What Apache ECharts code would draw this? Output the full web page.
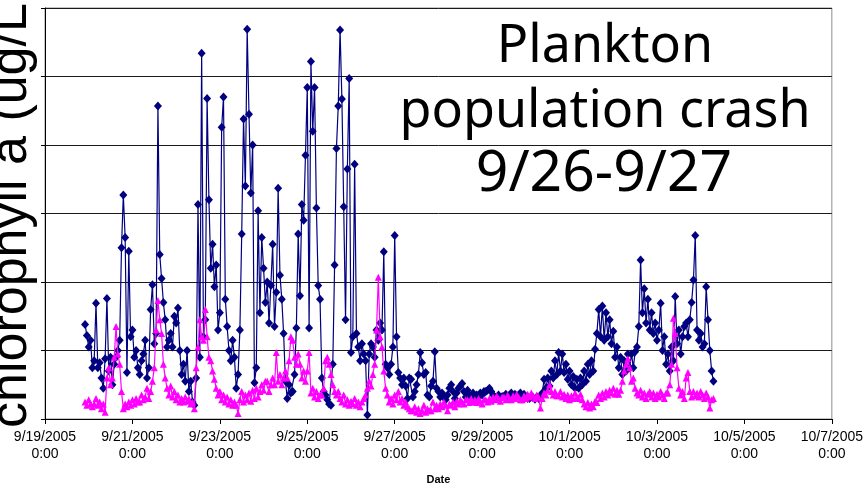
<!DOCTYPE html>
<html>
<head>
<meta charset="utf-8">
<script src="https://cdn.jsdelivr.net/npm/echarts@6/dist/echarts.min.js"></script>
<style>
html,body{margin:0;padding:0;background:#fff;}
#chart{width:866px;height:490px;}
</style>
</head>
<body>
<div id="chart"></div>
<script>
// Time base: hours after 9/19/2005 0:00; one reading per hour starting 9/19 22:00
const START_HOUR = 22;
const STEP_HOURS = 1;

const xTickLabels = ['9/19/2005','9/21/2005','9/23/2005','9/25/2005','9/27/2005','9/29/2005','10/1/2005','10/3/2005','10/5/2005','10/7/2005'];

// chlorophyll a, navy series (diamonds)
const chlNavy = [
 13.8,12.2,10.5,11.5,7.5,8.5,16.9,7.5,8.2,6.0,
 4.5,8.8,17.6,7.0,9.0,5.0,8.0,9.0,10.0,11.5,
 25.0,32.7,26.5,6.8,24.5,12.0,13.0,9.0,10.0,7.5,
 6.5,8.5,9.5,11.5,6.0,7.5,16.0,19.6,11.0,12.5,
 45.7,24.0,20.5,17.0,14.5,10.5,11.5,12.5,10.5,15.0,
 14.0,16.2,10.0,6.5,8.0,5.5,10.0,4.0,5.5,2.5,
 2.0,6.0,31.3,9.0,53.4,12.0,14.5,46.8,32.0,22.0,
 25.5,19.3,22.5,13.0,15.5,42.6,47.0,17.5,13.5,10.0,
 8.5,11.5,9.0,4.5,6.5,13.0,27.0,43.8,34.0,56.9,
 44.5,33.0,40.0,5.3,7.5,30.4,15.5,26.5,22.0,17.0,
 20.0,14.0,19.5,25.5,13.5,18.5,33.7,21.0,17.5,12.5,
 5.5,3.0,5.0,3.8,4.0,6.5,13.3,27.0,18.0,31.3,
 29.0,38.5,48.4,13.3,52.2,42.0,48.4,30.8,19.5,17.5,
 6.0,4.0,3.5,2.8,2.2,2.0,8.0,22.5,39.5,45.7,
 56.8,46.7,31.0,14.5,36.5,49.7,9.7,12.0,37.2,12.5,
 10.5,8.5,11.0,9.5,8.5,0.6,9.5,11.0,10.5,9.0,
 13.0,11.5,14.0,13.0,24.4,8.0,7.5,6.5,8.0,10.5,
 26.8,12.0,6.8,6.0,5.0,6.0,4.8,3.0,6.0,5.8,
 3.2,4.0,5.0,6.5,9.7,8.2,6.5,6.8,3.5,3.2,
 4.8,5.5,9.8,4.5,4.0,3.2,3.8,3.2,2.8,3.5,
 4.5,5.0,4.0,3.0,3.8,4.5,4.8,5.2,4.0,3.2,
 4.2,3.5,3.0,3.8,2.8,3.5,3.2,3.8,3.5,4.0,
 4.0,4.2,4.5,4.0,3.5,3.2,3.0,3.5,3.0,3.3,
 3.3,3.6,3.2,3.5,3.8,3.4,3.6,3.3,3.5,3.8,
 3.4,3.6,3.2,3.0,3.0,3.3,3.1,2.9,3.2,3.0,
 3.4,3.8,5.8,4.5,6.0,4.8,7.0,6.0,8.5,6.5,
 9.7,7.0,9.5,6.8,8.0,5.8,7.0,5.0,6.2,4.5,
 5.8,4.5,6.0,5.0,7.0,5.5,8.0,6.5,8.5,7.0,
 10.2,12.5,16.0,12.0,16.5,11.5,15.5,12.0,14.5,11.0,
 12.8,9.0,10.5,7.5,9.0,6.5,8.5,7.0,9.5,7.5,
 9.5,7.5,9.8,10.5,13.5,23.2,15.5,19.0,14.0,17.5,
 13.0,15.5,12.5,14.0,11.5,13.0,16.9,10.0,12.0,8.0,
 9.5,7.0,10.5,8.5,17.9,11.0,13.0,9.5,12.0,13.5,
 14.0,12.0,14.5,17.0,20.3,26.8,13.0,11.5,12.5,10.5,
 11.0,19.3,14.5,10.0,7.0,5.5
];

// chlorophyll a, magenta series (triangles)
const chlMagenta = [
 2.5,2.0,2.8,2.2,1.8,2.2,3.0,2.0,2.5,1.5,
 2.2,1.0,6.0,7.5,5.0,6.0,9.0,13.5,9.5,8.0,
 4.0,1.5,2.2,1.8,2.5,2.0,2.8,2.2,3.0,2.5,
 2.5,3.5,2.8,3.2,4.5,3.0,4.0,5.5,7.5,13.0,
 17.3,14.5,12.5,8.0,6.0,4.5,3.5,4.8,3.2,4.0,
 2.8,3.5,2.5,3.0,2.5,3.2,2.6,3.0,2.2,2.5,
 1.5,7.5,10.5,14.5,12.0,11.5,16.0,12.0,9.0,8.5,
 7.0,5.8,4.5,3.5,4.0,2.8,3.5,2.5,3.2,2.2,
 2.8,2.0,2.5,2.0,0.8,2.8,4.0,2.5,3.5,2.8,
 3.8,2.6,4.2,3.0,4.5,3.2,4.0,5.0,4.2,5.5,
 5.5,4.0,5.0,6.0,5.0,9.7,5.5,6.5,5.0,6.0,
 7.0,6.0,8.5,12.0,11.5,9.0,8.0,9.5,8.0,6.0,
 7.0,5.5,7.0,9.7,3.8,4.5,3.2,4.0,3.0,3.5,
 3.5,4.5,8.5,9.0,8.0,6.5,5.0,4.0,3.5,4.0,
 3.0,2.5,3.5,2.2,2.8,2.0,2.6,2.2,3.0,2.0,
 2.5,1.8,2.5,3.0,3.5,4.5,5.5,4.8,6.5,8.0,
 13.0,20.7,12.0,10.5,7.0,4.5,3.5,2.5,3.0,2.2,
 3.5,2.8,4.0,2.5,3.0,2.0,2.5,1.8,1.5,1.2,
 1.2,1.8,1.0,1.5,0.8,1.2,2.0,1.0,1.5,1.2,
 1.2,2.5,1.5,2.0,1.5,2.2,1.8,2.5,2.0,1.2,
 2.2,2.0,2.5,1.8,2.6,2.2,2.8,2.5,2.2,2.8,
 2.8,2.4,3.0,2.5,2.8,2.4,3.0,2.6,2.2,2.8,
 2.8,2.5,3.0,2.6,3.2,2.8,3.4,3.0,2.6,3.2,
 3.2,2.8,3.5,3.0,2.8,3.4,3.0,3.6,3.2,2.8,
 2.8,3.4,3.0,3.6,3.2,3.8,3.4,3.0,3.5,3.2,
 1.6,3.0,3.8,3.5,4.2,5.0,4.0,3.5,4.0,3.4,
 3.4,4.0,3.2,3.6,3.0,3.5,2.8,3.4,3.0,3.8,
 3.2,3.0,3.6,2.8,2.2,1.8,2.4,1.6,2.2,1.8,
 2.6,2.4,3.5,3.0,3.8,3.2,4.0,3.5,4.2,3.8,
 4.5,3.6,4.2,3.6,4.2,5.5,7.0,8.0,8.8,7.5,
 5.5,6.0,4.5,3.8,3.5,4.2,3.2,3.8,3.0,3.6,
 4.0,3.2,3.8,3.0,3.6,3.2,4.0,3.5,3.0,3.8,
 3.8,5.0,8.0,14.7,12.5,7.5,4.5,3.5,4.0,3.0,
 6.0,6.8,4.0,3.2,4.0,3.4,3.8,3.2,4.0,3.5,
 3.0,3.8,3.2,1.6,2.8,3.0
];

const yAxisTitle = 'chlorophyll a (ug/L';
const noteLines = ['Plankton', 'population crash', '9/26-9/27'];

function toPairs(vals) {
  return vals.map((v, i) => [START_HOUR + i * STEP_HOURS, v]);
}

const chart = echarts.init(document.getElementById('chart'), null, {renderer: 'canvas'});
const option = {
  animation: false,
  backgroundColor: '#ffffff',
  grid: {left: 45, right: 31, top: 8, bottom: 66, show: true, borderColor: '#8c8c8c', borderWidth: 1},
  xAxis: {
    type: 'value', min: 0, max: 432, interval: 48,
    name: 'Date', nameLocation: 'middle', nameGap: 55,
    nameTextStyle: {fontFamily: 'Liberation Sans', fontWeight: 'bold', fontSize: 11, color: '#000'},
    axisLine: {show: true, lineStyle: {color: '#000', width: 1}},
    axisTick: {show: true, inside: false, length: 5, lineStyle: {color: '#000'}},
    axisLabel: {
      show: true, margin: 10, color: '#000', fontFamily: 'Liberation Sans', fontSize: 14, lineHeight: 17,
      showMinLabel: true, showMaxLabel: true, hideOverlap: false,
      formatter: v => { const k = Math.round(v / 48); return (xTickLabels[k] || '') + '\n0:00'; }
    },
    splitLine: {show: false}
  },
  yAxis: {
    type: 'value', min: 0, max: 60, interval: 10,
    axisLine: {show: true, lineStyle: {color: '#000', width: 1}},
    axisTick: {show: true, inside: false, length: 4, lineStyle: {color: '#000'}},
    axisLabel: {show: false},
    splitLine: {show: true, lineStyle: {color: '#1a1a1a', width: 1}}
  },
  series: [
    {
      type: 'line', name: 'navy', data: toPairs(chlNavy),
      symbol: 'diamond', symbolSize: [8, 9], showAllSymbol: true,
      lineStyle: {color: '#000080', width: 1.2},
      itemStyle: {color: '#000080', borderWidth: 0},
      z: 2
    },
    {
      type: 'line', name: 'magenta', data: toPairs(chlMagenta),
      symbol: 'triangle', symbolSize: 7, showAllSymbol: true,
      lineStyle: {color: '#ff00ff', width: 1.2},
      itemStyle: {color: '#ff00ff', borderWidth: 0},
      z: 3
    }
  ],
  graphic: [
    {
      type: 'text', x: 12, y: 428, rotation: Math.PI / 2, z: 10,
      style: {text: yAxisTitle, font: '52px "Liberation Sans", Arial, sans-serif', fill: '#000', textAlign: 'left', textVerticalAlign: 'middle'}
    },
    {
      type: 'text', x: 605, y: 47, z: 10,
      style: {text: noteLines[0], font: '52px "Noto Sans", sans-serif', fill: '#000', textAlign: 'center', textVerticalAlign: 'middle'}
    },
    {
      type: 'text', x: 605, y: 112, z: 10,
      style: {text: noteLines[1], font: '52px "Noto Sans", sans-serif', fill: '#000', textAlign: 'center', textVerticalAlign: 'middle'}
    },
    {
      type: 'text', x: 604, y: 175, z: 10,
      style: {text: noteLines[2], font: '57px "Noto Sans", sans-serif', fill: '#000', textAlign: 'center', textVerticalAlign: 'middle'}
    }
  ]
};
chart.setOption(option);
</script>
</body>
</html>
